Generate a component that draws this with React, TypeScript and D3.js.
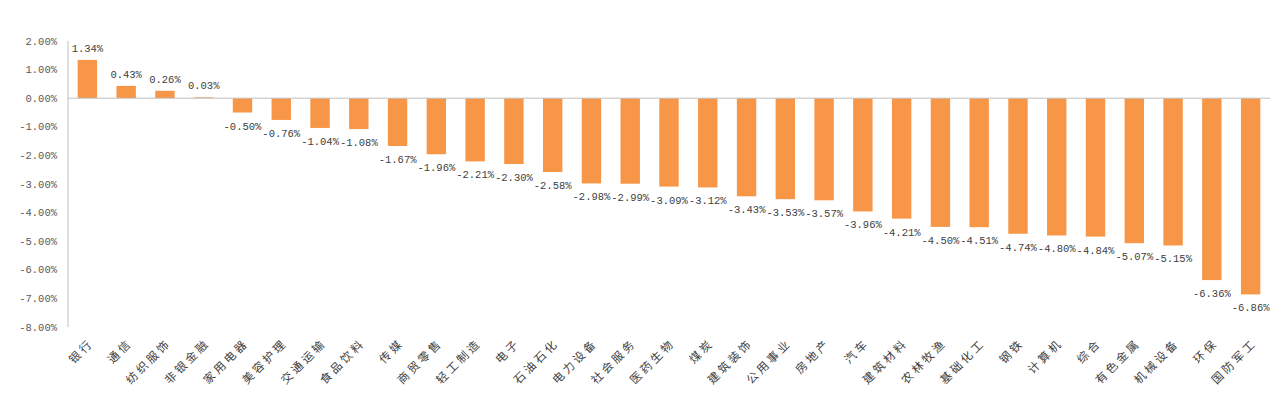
import React from "react";
import * as d3 from "d3";

const categories = ["银行","通信","纺织服饰","非银金融","家用电器","美容护理","交通运输","食品饮料","传媒","商贸零售","轻工制造","电子","石油石化","电力设备","社会服务","医药生物","煤炭","建筑装饰","公用事业","房地产","汽车","建筑材料","农林牧渔","基础化工","钢铁","计算机","综合","有色金属","机械设备","环保","国防军工"];
const values = [1.34,0.43,0.26,0.03,-0.50,-0.76,-1.04,-1.08,-1.67,-1.96,-2.21,-2.30,-2.58,-2.98,-2.99,-3.09,-3.12,-3.43,-3.53,-3.57,-3.96,-4.21,-4.50,-4.51,-4.74,-4.80,-4.84,-5.07,-5.15,-6.36,-6.86];
const yTicks = [2,1,0,-1,-2,-3,-4,-5,-6,-7,-8];

const W = 1280, H = 398;
const left = 68, right = 1270, top = 41, bottom = 327;

export default function App() {
  const x = d3.scaleBand<string>().domain(categories).range([left, right]).paddingInner(0.5).paddingOuter(0.25);
  const y = d3.scaleLinear().domain([-8, 2]).range([bottom, top]);
  const monoFont = "'Liberation Mono', 'DejaVu Sans Mono', monospace";
  const cjkFont = "'Noto Sans CJK SC', sans-serif";
  const band = (right - left) / categories.length;
  return (
    <svg width={W} height={H} style={{ position: "absolute", left: 0, top: 0, background: "#fff" }}>
      {/* y axis */}
      <line x1={left} x2={left} y1={top} y2={bottom} stroke="#bfbfbf" strokeWidth={1} />
      {yTicks.map((t) => (
        <text key={t} x={57} y={y(t)} dy="0.35em" textAnchor="end" fontFamily={monoFont} fontSize={10.5} fill="#595959">
          {t.toFixed(2) + "%"}
        </text>
      ))}
      {/* bars */}
      {categories.map((c, i) => {
        const v = values[i];
        const y0 = y(0), y1 = y(v);
        return (
          <rect key={c} x={x(c)} width={x.bandwidth()} y={Math.min(y0, y1)} height={Math.abs(y1 - y0)} fill="#F79646" />
        );
      })}
      {/* zero axis */}
      <line x1={left} x2={right} y1={y(0)} y2={y(0)} stroke="#bfbfbf" strokeWidth={1} />
      {/* value labels */}
      {categories.map((c, i) => {
        const v = values[i];
        const cx = (x(c) as number) + x.bandwidth() / 2;
        const ly = v >= 0 ? y(v) - 8 : y(v) + 17;
        return (
          <text key={c} x={cx} y={ly} textAnchor="middle" fontFamily={monoFont} fontSize={10.5} fill="#404040">
            {v.toFixed(2) + "%"}
          </text>
        );
      })}
      {/* category labels */}
      {categories.map((c, i) => {
        const cx = left + band * (i + 0.5);
        const ly = 341;
        return (
          <text key={c} transform={`translate(${cx + 4},${ly}) rotate(-45)`} textAnchor="end" dy="0.35em" fontFamily={cjkFont} fontSize={11.5} letterSpacing={3} fill="#404040">
            {c}
          </text>
        );
      })}
    </svg>
  );
}
